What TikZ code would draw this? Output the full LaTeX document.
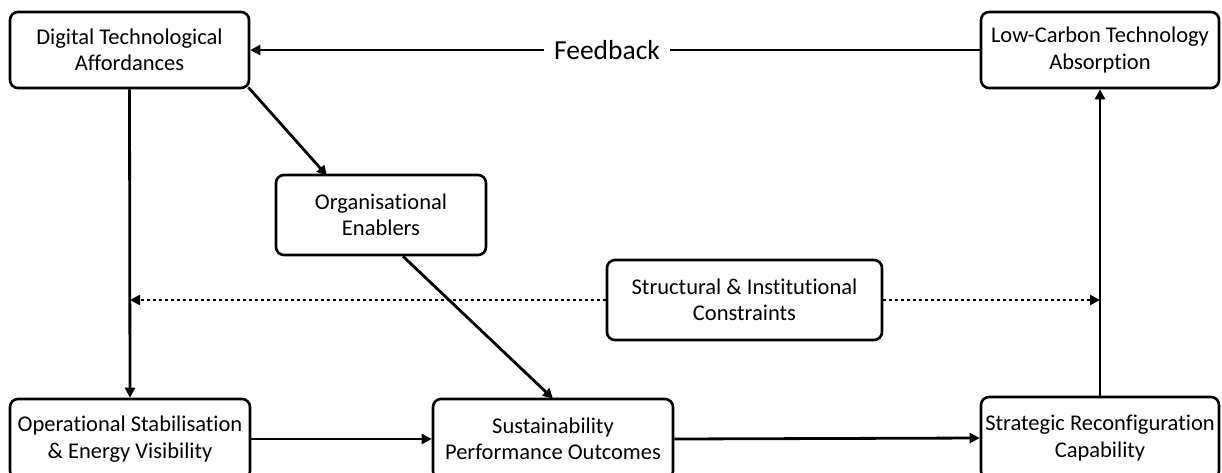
\documentclass[tikz,border=0pt]{standalone}
\usepackage{fontspec}
\setmainfont{Carlito}[Ligatures=NoCommon]
\usetikzlibrary{arrows.meta}
\begin{document}
\begin{tikzpicture}[x=1pt,y=-1pt,
  box/.style={draw, line width=2.6pt, rounded corners=8pt, align=center, font=\fontsize{22.5}{26.5}\selectfont, inner sep=0pt},
  conn/.style={line width=2.8pt, -{Triangle[length=10pt,width=10pt]}},
  dotconn/.style={line width=2.8pt, dash pattern=on 3pt off 3pt, -{Triangle[length=10pt,width=10pt]}}]
\useasboundingbox (0,0) rectangle (1222,472);
\fill[white] (0,0) rectangle (1222,472);
\node[box, minimum width=239pt, minimum height=76pt] (dta) at (129.5,50) {Digital Technological\\Affordances};
\node[box, minimum width=238pt, minimum height=76pt] (lct) at (1100,50) {Low-Carbon Technology\\Absorption};
\node[box, minimum width=210pt, minimum height=80pt] (oe) at (381,215) {Organisational\\Enablers};
\node[box, minimum width=275pt, minimum height=80pt] (sic) at (744.5,300) {Structural \& Institutional\\Constraints};
\node[box, minimum width=240pt, minimum height=80pt] (osev) at (130,439) {Operational Stabilisation\\\& Energy Visibility};
\node[box, minimum width=240pt, minimum height=80pt] (spo) at (553,439) {Sustainability\\Performance Outcomes};
\node[box, minimum width=238pt, minimum height=82pt] (src) at (1100,438) {Strategic Reconfiguration\\Capability};
\node[font=\fontsize{27.5}{30}\selectfont, fill=white, inner xsep=10pt] (fb) at (607,50) {Feedback};
\coordinate (dl) at (130,300);
\coordinate (dr) at (1100,300);
\draw[line width=2.8pt] (lct.west) -- (fb.east);
\draw[conn] (fb.west) -- (dta.east);
\draw[conn] (dta.south) -- (osev.north);
\draw[conn] ([xshift=-2pt,yshift=2pt]dta.south east) -- ([xshift=-54pt,yshift=-2pt]oe.north);
\draw[conn] ([xshift=22pt]oe.south) -- ([yshift=-1pt]spo.north);
\draw[dotconn] (sic.west) -- (dl);
\draw[dotconn] (sic.east) -- (dr);
\draw[conn] (osev.east) -- (spo.west);
\draw[conn] (spo.east) -- (src.west);
\draw[conn] (src.north) -- (lct.south);
\end{tikzpicture}
\end{document}
